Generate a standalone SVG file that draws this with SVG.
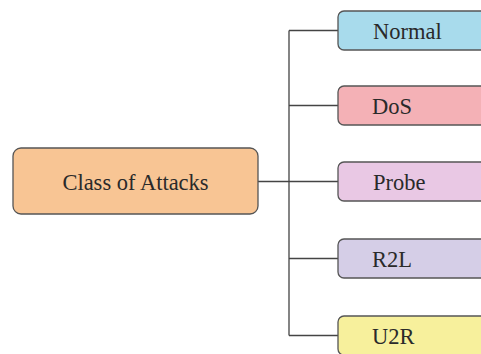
<svg xmlns="http://www.w3.org/2000/svg" width="481" height="354" viewBox="0 0 481 354">
<style>
.box{stroke:#555;stroke-width:1.3}
.t{font-family:'Liberation Serif','Times New Roman',serif;font-size:22.5px;fill:#2a2a2a}
.c{fill:none;stroke:#444;stroke-width:1.3}
</style>
<rect width="481" height="354" fill="#fff"/>
<g id="connectors">
<path class="c" d="M258 181.5H289M289 30.5V335.5M289 30.5H338M289 105.5H338M289 181.5H338M289 258.5H338M289 335.5H338"/>
</g>
<g id="class-of-attacks">
<rect class="box" x="13" y="148" width="245" height="66" rx="8" fill="#f8c594"/>
<text class="t" x="135.5" y="189.5" text-anchor="middle">Class of Attacks</text>
</g>
<g id="normal">
<rect class="box" x="338" y="11" width="160" height="39" rx="6" fill="#a8dbec"/>
<text class="t" x="373" y="38.5">Normal</text>
</g>
<g id="dos">
<rect class="box" x="338" y="86" width="160" height="39" rx="6" fill="#f4b1b6"/>
<text class="t" x="372" y="113.5">DoS</text>
</g>
<g id="probe">
<rect class="box" x="338" y="162" width="160" height="39" rx="6" fill="#e9c8e4"/>
<text class="t" x="373" y="189.5">Probe</text>
</g>
<g id="r2l">
<rect class="box" x="338" y="239" width="160" height="39" rx="6" fill="#d5cee7"/>
<text class="t" x="372" y="266.5">R2L</text>
</g>
<g id="u2r">
<rect class="box" x="338" y="316" width="160" height="39" rx="6" fill="#f7f09c"/>
<text class="t" x="372" y="343.5">U2R</text>
</g>
</svg>
